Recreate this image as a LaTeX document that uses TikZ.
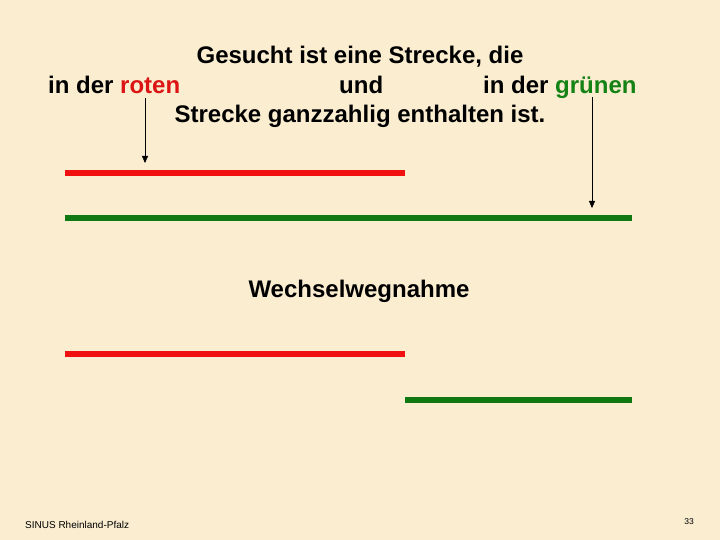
\documentclass[tikz,border=0pt]{standalone}
\usepackage{fontspec}
\setmainfont{Liberation Sans}
\usetikzlibrary{arrows.meta}
\definecolor{bgc}{RGB}{250,237,208}
\definecolor{segred}{RGB}{240,16,16}
\definecolor{seggreen}{RGB}{16,120,16}
\definecolor{txtred}{RGB}{220,20,20}
\definecolor{txtgreen}{RGB}{20,130,20}
\tikzset{
  big/.style={inner sep=0pt, font=\fontsize{24}{28}\selectfont\bfseries},
  seg/.style={line width=6pt},
  pointer/.style={thin, -{Triangle[length=7pt,width=6pt]}},
}
\begin{document}
\begin{tikzpicture}[x=1pt,y=-1pt]
\fill[bgc] (0,0) rectangle (720,540);
\useasboundingbox (0,0) rectangle (720,540);
\node[big, anchor=base] (t1) at (360,64) {Gesucht ist eine Strecke, die};
\node[big, anchor=base west] (t2a) at (48,94) {in der \textcolor{txtred}{roten}};
\node[big, anchor=base west] (t2b) at (339,94) {und};
\node[big, anchor=base west] (t2c) at (483,94) {in der \textcolor{txtgreen}{grünen}};
\node[big, anchor=base] (t3) at (360,123) {Strecke ganzzahlig enthalten ist.};
\node[big, anchor=base] (t4) at (359,297) {Wechselwegnahme};
\node[inner sep=0pt, anchor=base west, font=\fontsize{10}{11}\selectfont] (foot) at (25,528) {SINUS Rheinland-Pfalz};
\node[inner sep=0pt, anchor=base, font=\fontsize{8.5}{9}\selectfont] (pg) at (689,524) {33};
% segments
\coordinate (r1a) at (65,173); \coordinate (r1b) at (405,173);
\coordinate (g1a) at (65,218); \coordinate (g1b) at (632,218);
\coordinate (r2a) at (65,354); \coordinate (r2b) at (405,354);
\coordinate (g2a) at (405,400); \coordinate (g2b) at (632,400);
\draw[seg, segred] (r1a) -- (r1b);
\draw[seg, seggreen] (g1a) -- (g1b);
\draw[seg, segred] (r2a) -- (r2b);
\draw[seg, seggreen] (g2a) -- (g2b);
% arrows
\coordinate (p1s) at (145,98); \coordinate (p1e) at (145,163);
\coordinate (p2s) at (592,97); \coordinate (p2e) at (592,208);
\draw[pointer] (p1s) -- (p1e);
\draw[pointer] (p2s) -- (p2e);
\end{tikzpicture}
\end{document}
